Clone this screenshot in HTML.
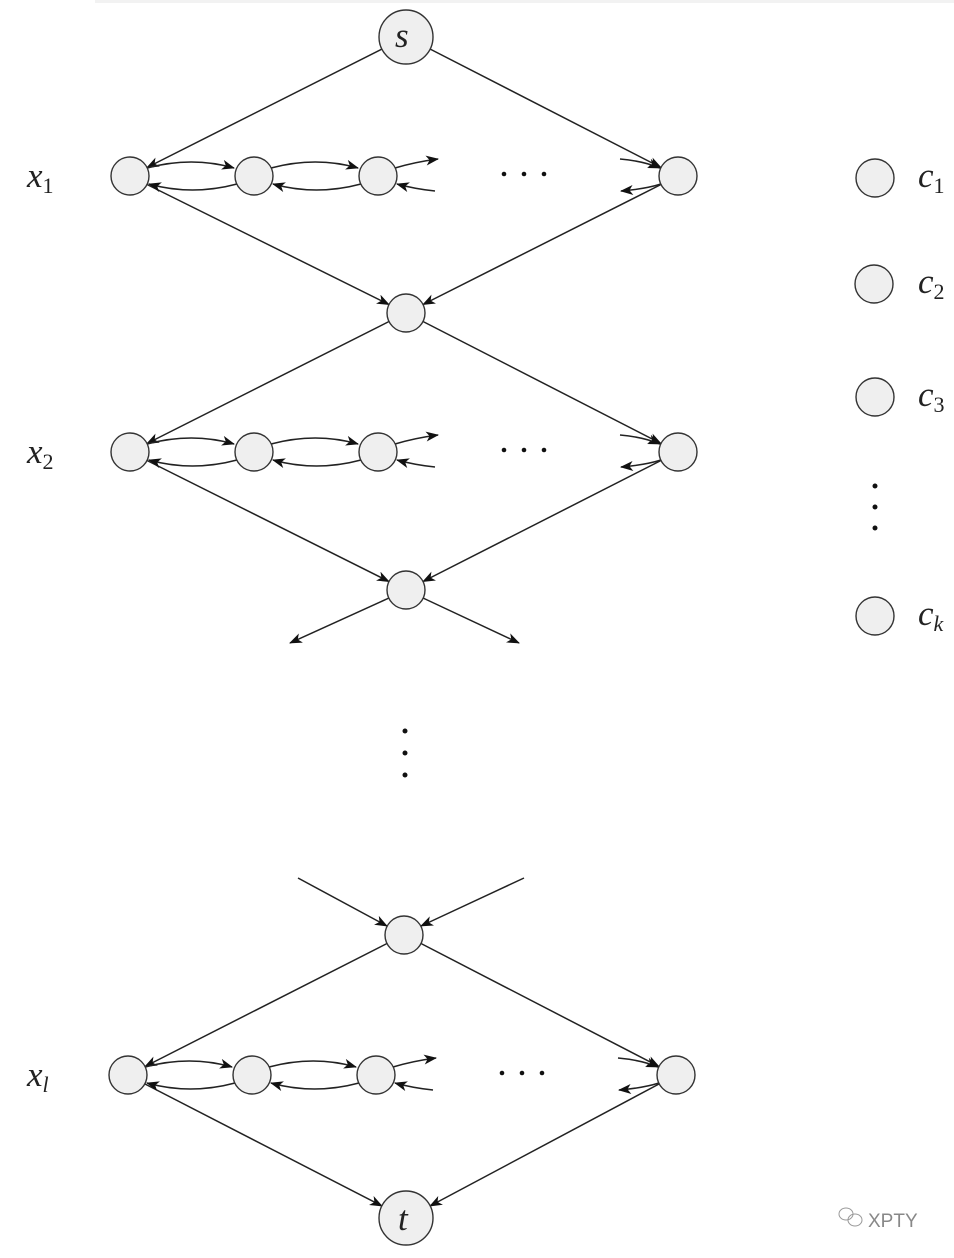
<!DOCTYPE html>
<html><head><meta charset="utf-8"><style>
html,body{margin:0;padding:0;background:#fff}
svg{display:block}
.t{font-family:"Liberation Serif",serif;font-style:italic;font-size:35px;fill:#222}
.sub{font-family:"Liberation Serif",serif;font-size:22px;fill:#222;font-style:normal}
.subi{font-family:"Liberation Serif",serif;font-size:22px;fill:#222;font-style:italic}
</style></head><body>
<svg width="954" height="1258" viewBox="0 0 954 1258" xmlns="http://www.w3.org/2000/svg">
<defs>
<marker id="a" markerWidth="16" markerHeight="12" refX="12" refY="5" orient="auto" markerUnits="userSpaceOnUse">
<path d="M0,0 L13,5 L0,10 L3.5,5 z" fill="#111"/>
</marker>
<g id="row" fill="none" stroke="#222" stroke-width="1.5">
<path d="M17,-8 Q62,-20 104,-8" marker-end="url(#a)"/>
<path d="M107,8 Q62,20 19,8" marker-end="url(#a)"/>
<path d="M141,-8 Q186,-20 228,-8" marker-end="url(#a)"/>
<path d="M231,8 Q186,20 143,8" marker-end="url(#a)"/>
<path d="M265,-8 Q285,-14 308,-17" marker-end="url(#a)"/>
<path d="M305,15 Q285,13 267,8" marker-end="url(#a)"/>
<path d="M490,-17 Q513,-15 530,-8" marker-end="url(#a)"/>
<path d="M531,8 Q515,13 491,15" marker-end="url(#a)"/>
<g fill="#efefef" stroke="#333" stroke-width="1.4">
<circle cx="0" cy="0" r="19"/><circle cx="124" cy="0" r="19"/><circle cx="248" cy="0" r="19"/><circle cx="548" cy="0" r="19"/>
</g>
<g fill="#111" stroke="none"><circle cx="374" cy="-2" r="2.3"/><circle cx="394" cy="-2" r="2.3"/><circle cx="414" cy="-2" r="2.3"/></g>
</g>
</defs>
<rect x="95" y="0" width="859" height="3" fill="#f2f2f2"/>
<g stroke="#222" stroke-width="1.5" fill="none">
<line x1="382" y1="49" x2="147" y2="167.5" marker-end="url(#a)"/>
<line x1="430" y1="49" x2="661" y2="167.5" marker-end="url(#a)"/>
<line x1="147" y1="184.5" x2="389" y2="304.5" marker-end="url(#a)"/>
<line x1="661" y1="184.5" x2="423" y2="304.5" marker-end="url(#a)"/>
<line x1="389" y1="321.5" x2="147" y2="443.5" marker-end="url(#a)"/>
<line x1="423" y1="321.5" x2="661" y2="443.5" marker-end="url(#a)"/>
<line x1="147" y1="460.5" x2="389" y2="581.5" marker-end="url(#a)"/>
<line x1="661" y1="460.5" x2="423" y2="581.5" marker-end="url(#a)"/>
<line x1="389" y1="598" x2="290" y2="643" marker-end="url(#a)"/>
<line x1="423" y1="598" x2="519" y2="643" marker-end="url(#a)"/>
<line x1="298" y1="878" x2="387" y2="926" marker-end="url(#a)"/>
<line x1="524" y1="878" x2="421" y2="926" marker-end="url(#a)"/>
<line x1="387" y1="943.5" x2="145" y2="1066.5" marker-end="url(#a)"/>
<line x1="421" y1="943.5" x2="659" y2="1066.5" marker-end="url(#a)"/>
<line x1="145" y1="1084" x2="382" y2="1206" marker-end="url(#a)"/>
<line x1="659" y1="1084" x2="430" y2="1206" marker-end="url(#a)"/>
</g>
<use href="#row" x="130" y="176"/>
<use href="#row" x="130" y="452"/>
<use href="#row" x="128" y="1075"/>
<g fill="#efefef" stroke="#333" stroke-width="1.4">
<circle cx="406" cy="37" r="27"/>
<circle cx="406" cy="313" r="19"/>
<circle cx="406" cy="590" r="19"/>
<circle cx="404" cy="935" r="19"/>
<circle cx="406" cy="1218" r="27"/>
<circle cx="875" cy="178" r="19"/>
<circle cx="874" cy="284" r="19"/>
<circle cx="875" cy="397" r="19"/>
<circle cx="875" cy="616" r="19"/>
</g>
<g fill="#111">
<circle cx="405" cy="731" r="2.5"/><circle cx="405" cy="753" r="2.5"/><circle cx="405" cy="775" r="2.5"/>
<circle cx="875" cy="486" r="2.5"/><circle cx="875" cy="507" r="2.5"/><circle cx="875" cy="528" r="2.5"/>
</g>
<text class="t" x="395" y="47">s</text>
<text class="t" x="398" y="1230">t</text>
<text class="t" x="27" y="187">x<tspan class="sub" dy="6">1</tspan></text>
<text class="t" x="27" y="463">x<tspan class="sub" dy="6">2</tspan></text>
<text class="t" x="27" y="1086">x<tspan class="subi" dy="6">l</tspan></text>
<text class="t" x="918" y="187">c<tspan class="sub" dy="6">1</tspan></text>
<text class="t" x="918" y="293">c<tspan class="sub" dy="6">2</tspan></text>
<text class="t" x="918" y="406">c<tspan class="sub" dy="6">3</tspan></text>
<text class="t" x="918" y="625">c<tspan class="subi" dy="6">k</tspan></text>
<text x="868" y="1227" font-family="Liberation Sans,sans-serif" font-size="19" fill="#888">XPTY</text>
<g fill="none" stroke="#999" stroke-width="1"><ellipse cx="846" cy="1214" rx="7" ry="6"/><ellipse cx="855" cy="1220" rx="7" ry="6"/></g>
</svg>
</body></html>
